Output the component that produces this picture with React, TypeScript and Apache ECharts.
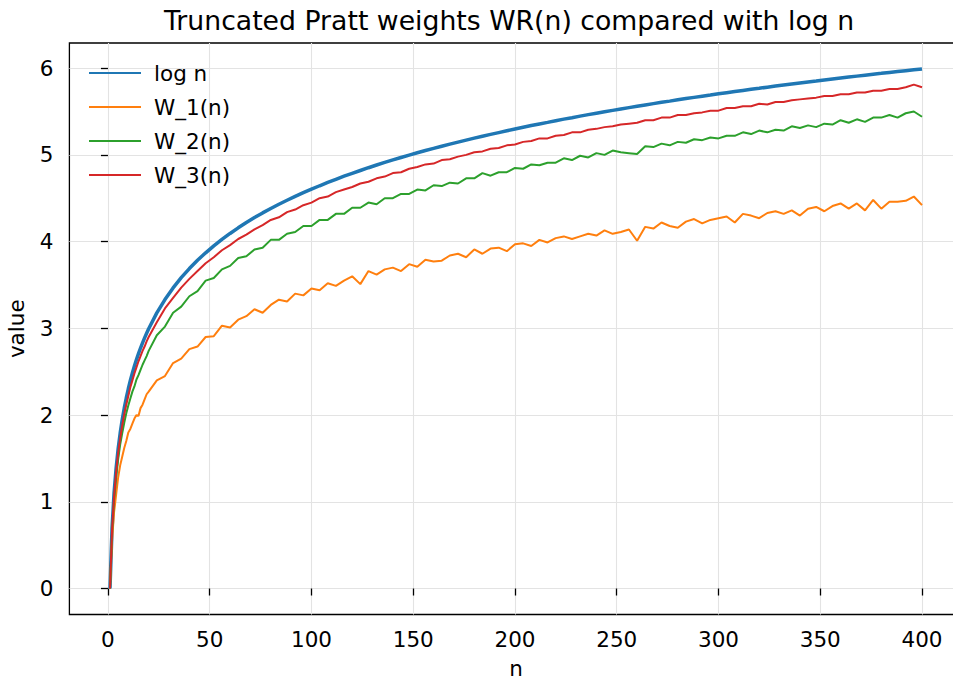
import React, { useEffect, useRef } from "react";
import * as echarts from "echarts";

const nValues = [
  1, 2, 3, 4, 5, 6, 7, 8, 9, 10, 11, 12, 13, 14, 15, 16, 17, 18, 19, 20,
  24, 28, 32, 36, 40, 44, 48, 52, 56, 60, 64, 68, 72, 76, 80, 84, 88, 92, 96, 100,
  104, 108, 112, 116, 120, 124, 128, 132, 136, 140, 144, 148, 152, 156, 160, 164, 168, 172, 176, 180,
  184, 188, 192, 196, 200, 204, 208, 212, 216, 220, 224, 228, 232, 236, 240, 244, 248, 252, 256, 260,
  264, 268, 272, 276, 280, 284, 288, 292, 296, 300, 304, 308, 312, 316, 320, 324, 328, 332, 336, 340,
  344, 348, 352, 356, 360, 364, 368, 372, 376, 380, 384, 388, 392, 396, 400,
];

const logN = [
  0, 0.693, 1.099, 1.386, 1.609, 1.792, 1.946, 2.079, 2.197, 2.303, 2.398, 2.485, 2.565, 2.639, 2.708, 2.773, 2.833, 2.89, 2.944, 2.996,
  3.178, 3.332, 3.466, 3.584, 3.689, 3.784, 3.871, 3.951, 4.025, 4.094, 4.159, 4.22, 4.277, 4.331, 4.382, 4.431, 4.477, 4.522, 4.564, 4.605,
  4.644, 4.682, 4.718, 4.754, 4.787, 4.82, 4.852, 4.883, 4.913, 4.942, 4.97, 4.997, 5.024, 5.05, 5.075, 5.1, 5.124, 5.147, 5.17, 5.193,
  5.215, 5.236, 5.257, 5.278, 5.298, 5.318, 5.338, 5.357, 5.375, 5.394, 5.412, 5.429, 5.447, 5.464, 5.481, 5.497, 5.513, 5.529, 5.545, 5.561,
  5.576, 5.591, 5.606, 5.62, 5.635, 5.649, 5.663, 5.677, 5.69, 5.704, 5.717, 5.73, 5.743, 5.756, 5.768, 5.781, 5.793, 5.805, 5.817, 5.829,
  5.841, 5.852, 5.864, 5.875, 5.886, 5.897, 5.908, 5.919, 5.93, 5.94, 5.951, 5.961, 5.971, 5.981, 5.991,
];

const w1 = [
  0, 0.55, 0.88, 1.08, 1.28, 1.42, 1.52, 1.62, 1.7, 1.8, 1.84, 1.9, 1.96, 2.0, 1.99, 2.08, 2.12, 2.18, 2.24, 2.27,
  2.4, 2.45, 2.6, 2.65, 2.76, 2.79, 2.9, 2.91, 3.03, 3.01, 3.1, 3.14, 3.22, 3.18, 3.27, 3.33, 3.31, 3.4, 3.38, 3.46,
  3.44, 3.52, 3.49, 3.55, 3.6, 3.51, 3.66, 3.62, 3.68, 3.7, 3.66, 3.74, 3.71, 3.79, 3.77, 3.78, 3.84, 3.86, 3.82, 3.91,
  3.86, 3.92, 3.93, 3.89, 3.97, 3.98, 3.95, 4.02, 3.99, 4.04, 4.06, 4.03, 4.06, 4.09, 4.07, 4.13, 4.09, 4.11, 4.14, 4.01,
  4.17, 4.15, 4.22, 4.18, 4.16, 4.23, 4.26, 4.21, 4.25, 4.27, 4.29, 4.22, 4.32, 4.3, 4.27, 4.33, 4.35, 4.32, 4.36, 4.3,
  4.38, 4.4, 4.35, 4.41, 4.44, 4.38, 4.44, 4.36, 4.48, 4.38, 4.46, 4.46, 4.47, 4.52, 4.42,
];

const w2 = [
  0, 0.64, 1.02, 1.28, 1.49, 1.66, 1.79, 1.91, 2.02, 2.11, 2.19, 2.27, 2.33, 2.41, 2.46, 2.52, 2.58, 2.63, 2.68, 2.74,
  2.92, 3.02, 3.18, 3.25, 3.37, 3.43, 3.55, 3.58, 3.68, 3.72, 3.81, 3.83, 3.91, 3.93, 4.02, 4.02, 4.09, 4.11, 4.18, 4.18,
  4.25, 4.25, 4.32, 4.32, 4.39, 4.39, 4.45, 4.43, 4.5, 4.5, 4.55, 4.55, 4.6, 4.59, 4.65, 4.64, 4.68, 4.67, 4.73, 4.73,
  4.79, 4.76, 4.8, 4.8, 4.85, 4.84, 4.89, 4.88, 4.91, 4.91, 4.96, 4.94, 4.99, 4.97, 5.02, 5.0, 5.05, 5.03, 5.02, 5.01,
  5.1, 5.09, 5.13, 5.11, 5.15, 5.14, 5.18, 5.17, 5.2, 5.19, 5.22, 5.22, 5.26, 5.24, 5.28, 5.26, 5.29, 5.28, 5.33, 5.31,
  5.34, 5.32, 5.36, 5.35, 5.4, 5.37, 5.41, 5.38, 5.43, 5.43, 5.46, 5.43, 5.48, 5.5, 5.44,
];

const w3 = [
  0, 0.67, 1.06, 1.34, 1.56, 1.73, 1.88, 2.01, 2.12, 2.22, 2.32, 2.4, 2.48, 2.55, 2.62, 2.68, 2.74, 2.79, 2.85, 2.9,
  3.07, 3.23, 3.35, 3.47, 3.57, 3.66, 3.75, 3.82, 3.9, 3.96, 4.03, 4.08, 4.14, 4.19, 4.25, 4.28, 4.34, 4.37, 4.42, 4.45,
  4.5, 4.52, 4.57, 4.6, 4.63, 4.67, 4.69, 4.73, 4.75, 4.79, 4.8, 4.84, 4.86, 4.89, 4.9, 4.94, 4.95, 4.98, 5.0, 5.03,
  5.04, 5.07, 5.08, 5.11, 5.12, 5.15, 5.16, 5.19, 5.19, 5.22, 5.23, 5.26, 5.26, 5.29, 5.3, 5.32, 5.33, 5.35, 5.36, 5.37,
  5.4, 5.4, 5.43, 5.43, 5.46, 5.46, 5.48, 5.49, 5.51, 5.51, 5.54, 5.54, 5.56, 5.56, 5.59, 5.58, 5.61, 5.61, 5.63, 5.64,
  5.65, 5.66, 5.68, 5.68, 5.7, 5.7, 5.72, 5.72, 5.74, 5.74, 5.76, 5.76, 5.78, 5.81, 5.78,
];

const xTicks = [0, 50, 100, 150, 200, 250, 300, 350, 400];
const yTicks = [0, 1, 2, 3, 4, 5, 6];

const seriesNames = ["log n", "W_1(n)", "W_2(n)", "W_3(n)"];
const seriesColors = ["#1f77b4", "#ff7f0e", "#2ca02c", "#d62728"];
const seriesWidths = [3.5, 2, 2, 2];
const seriesData = [logN, w1, w2, w3];

const FONT = "DejaVu Sans";
const FS = 21.5;

export default function App() {
  const ref = useRef<HTMLDivElement>(null);

  useEffect(() => {
    if (!ref.current) return;
    const chart = echarts.init(ref.current, undefined, { renderer: "svg" });
    const option: any = {
      animation: false,
      backgroundColor: "#ffffff",
      textStyle: { fontFamily: FONT },
      title: {
        text: "Truncated Pratt weights WR(n) compared with log n",
        left: 504,
        top: 2,
        textAlign: "center",
        textStyle: { fontFamily: FONT, fontSize: 26.7, fontWeight: "normal", color: "#000" },
      },
      legend: {
        data: seriesNames,
        orient: "vertical",
        left: 88,
        top: 62,
        padding: 0,
        itemWidth: 52,
        itemHeight: 14,
        itemGap: 12,
        itemStyle: { opacity: 0 },
        textStyle: { fontFamily: FONT, fontSize: FS, color: "#000", padding: [0, 0, 0, 8] },
      },
      grid: {
        left: 69.4,
        right: -9.6,
        top: 43,
        bottom: 67.5,
        containLabel: false,
        outerBoundsMode: "none",
        show: true,
        borderColor: "#000",
        borderWidth: 1.3,
        backgroundColor: "transparent",
      },
      xAxis: {
        type: "value",
        min: -18.95,
        max: 419.95,
        name: "n",
        nameLocation: "middle",
        nameGap: 43,
        nameTextStyle: { fontFamily: FONT, fontSize: FS, color: "#000" },
        axisLine: { show: false },
        axisTick: { show: true, length: 7, inside: false, customValues: xTicks, lineStyle: { color: "#000", width: 1.3 } },
        axisLabel: { show: true, customValues: xTicks, margin: 14, fontFamily: FONT, fontSize: FS, color: "#000" },
        splitLine: { show: true, lineStyle: { color: "#e3e3e3", width: 1.1 } },
      },
      yAxis: {
        type: "value",
        min: -0.2996,
        max: 6.29,
        name: "value",
        nameLocation: "middle",
        nameGap: 42,
        nameRotate: 90,
        nameTextStyle: { fontFamily: FONT, fontSize: FS, color: "#000" },
        axisLine: { show: false },
        axisTick: { show: true, length: 7, inside: false, customValues: yTicks, lineStyle: { color: "#000", width: 1.3 } },
        axisLabel: { show: true, customValues: yTicks, margin: 16, fontFamily: FONT, fontSize: FS, color: "#000" },
        splitLine: { show: true, lineStyle: { color: "#e3e3e3", width: 1.1 } },
      },
      series: seriesNames.map((name, i) => ({
        name,
        type: "line",
        data: nValues.map((n, j) => [n, seriesData[i][j]]),
        showSymbol: false,
        symbol: "none",
        color: seriesColors[i],
        lineStyle: { color: seriesColors[i], width: seriesWidths[i] },
        z: 3,
      })),
    };
    chart.setOption(option);
    return () => chart.dispose();
  }, []);

  return <div ref={ref} style={{ width: 953, height: 682, position: "absolute", left: 0, top: 0 }} />;
}
